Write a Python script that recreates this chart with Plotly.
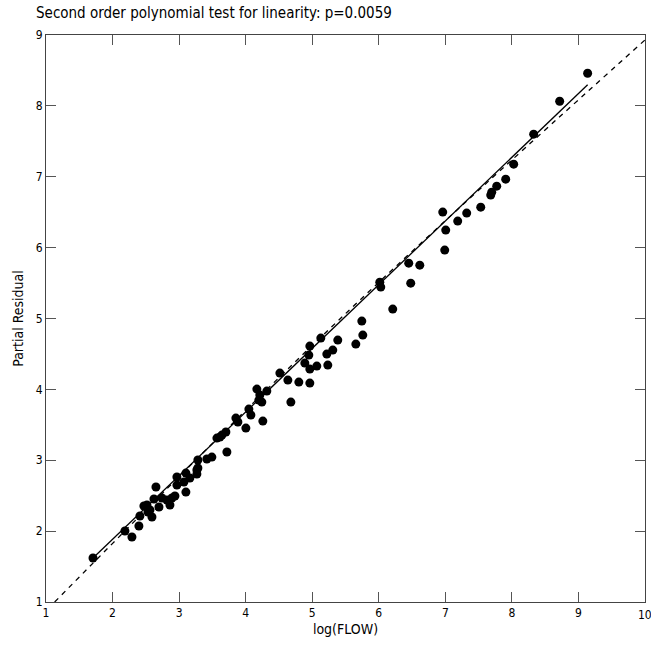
import plotly.graph_objects as go

# Partial residuals for log(FLOW)
log_flow = [
    1.706, 2.186, 2.291, 2.396, 2.411, 2.471, 2.532, 2.592, 2.517, 2.562,
    2.652, 2.622, 2.697, 2.742, 2.817, 2.862, 2.937, 2.892, 2.967, 2.967,
    3.102, 3.072, 3.102, 3.162, 3.267, 3.267, 3.282, 3.282, 3.417, 3.492,
    3.568, 3.643, 3.613, 3.703, 3.718, 3.853, 3.883, 4.003, 4.048, 4.078,
    4.168, 4.213, 4.198, 4.318, 4.258, 4.243, 4.514, 4.634, 4.679, 4.799,
    4.889, 4.949, 4.964, 4.964, 5.069, 4.964, 5.129, 5.219, 5.234, 5.309,
    5.384, 5.655, 5.745, 5.760, 6.015, 6.030, 6.210, 6.450, 6.480, 6.616,
    6.961, 7.006, 6.991, 7.186, 7.321, 7.532, 7.682, 7.697, 7.772, 7.907,
    8.027, 8.327, 8.718, 9.138,
]
partial_residual = [
    1.621, 2.001, 1.917, 2.072, 2.213, 2.354, 2.269, 2.199, 2.368, 2.298,
    2.622, 2.453, 2.340, 2.467, 2.439, 2.368, 2.495, 2.467, 2.763, 2.650,
    2.551, 2.693, 2.819, 2.749, 2.862, 2.805, 3.003, 2.890, 3.017, 3.045,
    3.313, 3.355, 3.327, 3.398, 3.116, 3.595, 3.539, 3.454, 3.722, 3.638,
    4.004, 3.920, 3.849, 3.976, 3.553, 3.821, 4.230, 4.131, 3.821, 4.103,
    4.371, 4.484, 4.611, 4.286, 4.329, 4.089, 4.724, 4.498, 4.343, 4.554,
    4.695, 4.639, 4.963, 4.766, 5.513, 5.443, 5.133, 5.781, 5.499, 5.753,
    6.501, 6.247, 5.965, 6.374, 6.487, 6.571, 6.741, 6.783, 6.867, 6.966,
    7.178, 7.601, 8.066, 8.461,
]

# Linear fit over the observed range
fit_x = [1.706, 9.138]
fit_y = [1.620, 8.297]

# Comparison curve drawn dashed across the full axis
ref_x = [1.13, 3.0, 5.0, 7.0, 10.0]
ref_y = [1.00, 2.77, 4.62, 6.38, 8.93]

x_ticks = [1, 2, 3, 4, 5, 6, 7, 8, 9]
y_ticks = [1, 2, 3, 4, 5, 6, 7, 8, 9]

FONT = "Liberation Sans Narrow, DejaVu Sans Condensed, Arial Narrow, sans-serif"

fig = go.Figure()
fig.add_trace(go.Scatter(
    x=ref_x, y=ref_y, mode="lines", line_shape="spline",
    line=dict(color="black", width=1.3, dash="5px,5px"),
    hoverinfo="skip",
))
fig.add_trace(go.Scatter(
    x=fit_x, y=fit_y, mode="lines",
    line=dict(color="black", width=1.3),
    hoverinfo="skip",
))
fig.add_trace(go.Scatter(
    x=log_flow, y=partial_residual, mode="markers",
    marker=dict(color="black", size=9, line=dict(width=0)),
))

axis_common = dict(
    showgrid=False, zeroline=False,
    showline=True, linecolor="#444", linewidth=1, mirror="ticks",
    ticks="inside", ticklen=10, tickcolor="#555", tickwidth=1,
    tickfont=dict(family=FONT, size=12, color="black"),
)

fig.update_layout(
    width=651, height=645,
    margin=dict(l=46, r=6, t=35, b=43),
    paper_bgcolor="white", plot_bgcolor="white",
    showlegend=False,
    font=dict(family=FONT, color="black"),
    title=dict(
        text="Second order polynomial test for linearity: p=0.0059",
        x=36 / 651, xanchor="left", xref="container",
        y=1 - 13 / 645, yanchor="middle", yref="container",
        font=dict(family=FONT, size=15, color="black"),
    ),
    xaxis=dict(
        range=[1, 10], tickvals=x_ticks + [10], ticktext=[str(v) for v in x_ticks] + [""],
        title=dict(text="log(FLOW)", standoff=4, font=dict(family=FONT, size=14)),
        **axis_common,
    ),
    yaxis=dict(
        range=[1, 9], tickvals=y_ticks, ticktext=[str(v) for v in y_ticks],
        title=dict(text="Partial Residual", standoff=8, font=dict(family=FONT, size=14)),
        **axis_common,
    ),
)

# Last x tick label sits on the right edge of the frame
fig.add_annotation(
    x=10, xref="x", y=0, yref="paper", yshift=-4,
    text="10", showarrow=False, xanchor="center", yanchor="top",
    font=dict(family=FONT, size=12, color="black"),
)

fig.write_html("out.html")
